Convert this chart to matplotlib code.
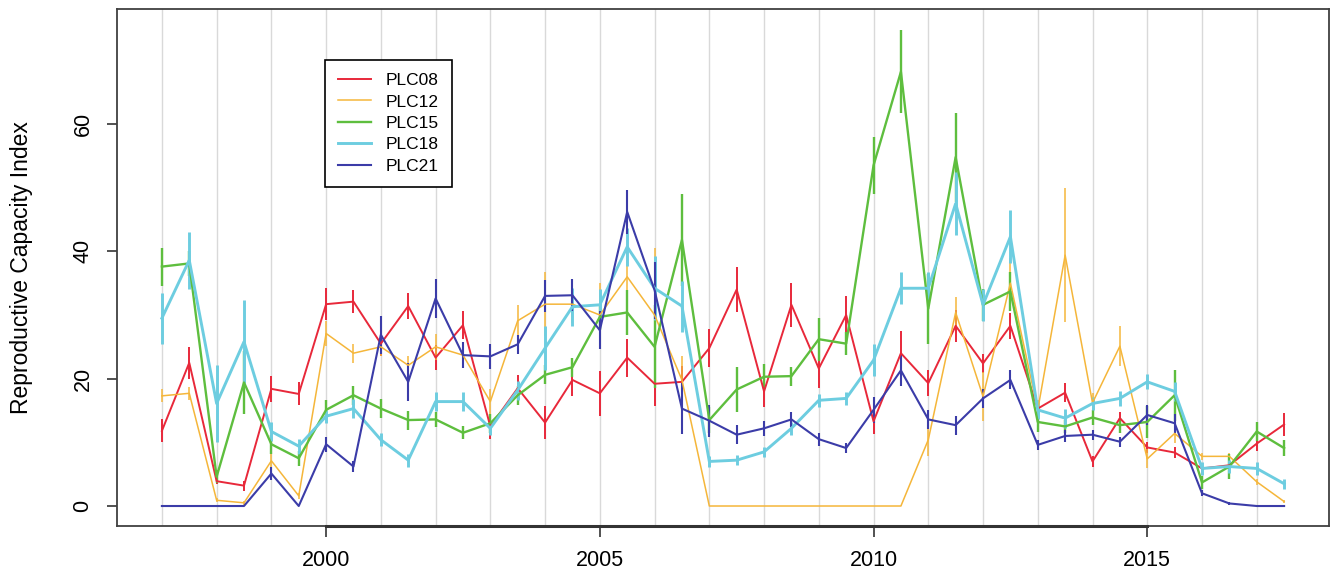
import numpy as np
import matplotlib
matplotlib.use("Agg")
import matplotlib.pyplot as plt

plt.rcParams['font.family'] = ['Liberation Sans', 'DejaVu Sans']

times = [1997.0, 1997.5, 1998.0, 1998.5, 1999.0, 1999.5, 2000.0, 2000.5, 2001.0, 2001.5,
         2002.0, 2002.5, 2003.0, 2003.5, 2004.0, 2004.5, 2005.0, 2005.5, 2006.0, 2006.5,
         2007.0, 2007.5, 2008.0, 2008.5, 2009.0, 2009.5, 2010.0, 2010.5, 2011.0, 2011.5,
         2012.0, 2012.5, 2013.0, 2013.5, 2014.0, 2014.5, 2015.0, 2015.5, 2016.0, 2016.5,
         2017.0, 2017.5]

plc08 = [11.8, 22.5, 3.9, 3.2, 18.4, 17.6, 31.7, 32.1, 25.5, 31.4,
         23.3, 28.4, 12.5, 18.5, 13.1, 19.8, 17.7, 23.3, 19.2, 19.5,
         24.8, 34.0, 18.0, 31.6, 21.6, 30.0, 13.3, 24.0, 19.3, 28.3,
         22.4, 28.3, 15.3, 17.8, 7.0, 13.8, 9.2, 8.4, 5.9, 6.4,
         9.8, 12.8]
plc12 = [17.3, 17.7, 0.9, 0.5, 7.1, 1.6, 27.1, 24.0, 25.0, 22.1,
         25.0, 23.7, 16.4, 29.1, 31.7, 31.7, 30.0, 36.0, 30.0, 19.8,
         0, 0, 0, 0, 0, 0, 0, 0, 10.4, 30.4,
         17.2, 35.0, 15.1, 39.4, 16.2, 25.1, 7.4, 11.4, 7.8, 7.8,
         3.8, 0.7]
plc15 = [37.6, 38.1, 4.6, 19.4, 9.7, 7.5, 15.1, 17.4, 15.3, 13.5,
         13.6, 11.5, 13.0, 17.4, 20.6, 21.8, 29.7, 30.4, 25.0, 41.8,
         13.5, 18.3, 20.3, 20.4, 26.2, 25.5, 53.5, 68.2, 31.0, 54.8,
         31.6, 33.7, 13.2, 12.5, 13.9, 12.7, 13.2, 17.4, 3.7, 6.2,
         11.7, 9.1]
plc18 = [29.5, 38.6, 16.1, 25.8, 11.7, 9.4, 14.1, 15.3, 10.4, 7.2,
         16.4, 16.4, 12.2, 18.2, 24.8, 31.3, 31.6, 40.7, 34.2, 31.4,
         7.0, 7.2, 8.5, 12.2, 16.6, 16.9, 22.9, 34.2, 34.2, 47.5,
         31.6, 42.3, 15.1, 13.8, 16.1, 16.9, 19.5, 18.0, 5.9, 6.2,
         5.9, 3.5]
plc21 = [0, 0, 0, 0, 5.1, 0, 9.7, 6.2, 26.9, 19.5,
         32.6, 23.7, 23.5, 25.4, 33.0, 33.1, 27.6, 46.2, 33.9, 15.3,
         13.4, 11.2, 12.2, 13.6, 10.5, 9.1, 15.1, 21.3, 13.6, 12.7,
         16.9, 19.8, 9.6, 11.0, 11.2, 10.1, 14.3, 13.0, 2.0, 0.4,
         0, 0]

err08 = [1.8, 2.5, 0.5, 0.8, 2.0, 1.8, 2.5, 1.8, 2.0, 2.0,
         2.0, 2.2, 2.0, 2.0, 2.6, 2.5, 3.5, 3.0, 3.5, 2.5,
         3.0, 3.5, 2.5, 3.5, 3.0, 3.0, 2.0, 3.5, 2.0, 2.5,
         1.5, 2.0, 1.0, 1.5, 0.8, 1.0, 0.8, 0.8, 0.8, 0.8,
         1.2, 1.8]
err12 = [1.0, 1.0, 0.3, 0.3, 1.0, 0.5, 2.0, 1.5, 1.5, 1.5,
         2.0, 1.5, 2.0, 2.5, 5.0, 3.0, 5.0, 4.5, 10.5, 3.8,
         0, 0, 0, 0, 0, 0, 0, 0, 2.6, 2.5,
         3.8, 4.0, 1.5, 10.5, 1.5, 3.1, 1.5, 1.5, 0.5, 0.5,
         0.5, 0.3]
err15 = [3.0, 2.0, 1.0, 5.0, 1.5, 1.2, 1.5, 1.5, 1.5, 1.5,
         1.2, 1.0, 1.5, 1.5, 1.5, 1.5, 2.0, 3.5, 6.5, 7.2,
         2.0, 3.5, 2.0, 1.5, 3.4, 1.8, 4.5, 6.5, 5.5, 7.0,
         2.5, 3.0, 1.5, 1.0, 1.2, 1.2, 2.5, 4.0, 1.0, 2.0,
         1.5, 1.2]
err18 = [4.0, 4.5, 6.0, 6.5, 1.5, 1.2, 1.0, 1.5, 1.0, 1.0,
         1.5, 1.5, 1.0, 1.5, 3.5, 3.0, 2.5, 3.0, 5.0, 4.0,
         0.8, 0.8, 0.8, 1.0, 1.0, 1.0, 2.5, 2.5, 2.5, 5.0,
         2.5, 4.2, 1.5, 1.5, 1.0, 1.2, 1.2, 1.5, 1.0, 1.0,
         1.0, 0.8]
err21 = [0, 0, 0, 0, 1.0, 0, 1.2, 0.8, 3.0, 3.0,
         3.0, 2.0, 2.0, 1.5, 2.5, 2.5, 3.0, 3.4, 4.5, 4.0,
         2.5, 1.5, 1.2, 1.2, 1.0, 0.8, 2.0, 2.5, 1.5, 1.5,
         1.5, 1.5, 0.8, 1.0, 0.8, 0.8, 1.5, 1.5, 0.5, 0.2,
         0, 0]

series_names = ["PLC08", "PLC12", "PLC15", "PLC18", "PLC21"]
series_vals = [plc08, plc12, plc15, plc18, plc21]
series_errs = [err08, err12, err15, err18, err21]
colors = ["#E8283A", "#F5B63A", "#5EBE3E", "#6DCDE0", "#3B3CA8"]
widths = [1.4, 1.1, 1.7, 2.1, 1.5]

grid_years = list(range(1997, 2018))
x_ticks = [2000, 2005, 2010, 2015]
y_ticks = [0, 20, 40, 60]

W, H = 1331, 580
fig = plt.figure(figsize=(W / 100, H / 100), dpi=100)
L, R, T, B = 117, 1329, 9, 526
ax = fig.add_axes([L / W, 1 - B / H, (R - L) / W, (B - T) / H])

for g in grid_years:
    ax.axvline(g, color="#d9d9d9", lw=1.0, zorder=0)

handles = []
for name, v, e, c, w in zip(series_names, series_vals, series_errs, colors, widths):
    ax.errorbar(times, v, yerr=e, color=c, lw=w, elinewidth=w, capsize=0, zorder=2)
    h, = ax.plot([], [], color=c, lw=w, label=name)
    handles.append(h)

ax.set_xlim(1996.18, 2018.32)
ax.set_ylim(-3.14, 78.06)

ax.set_xticks(x_ticks)
ax.set_xticklabels([str(t) for t in x_ticks], fontsize=15.5)
ax.set_yticks(y_ticks)
ax.set_yticklabels([str(t) for t in y_ticks], fontsize=15.5, rotation=90, va="center")
ax.tick_params(axis="x", length=8, width=1.2, pad=9, color="#333333")
ax.tick_params(axis="y", length=7, width=1.2, pad=10, color="#333333")
ax.set_ylabel("Reproductive Capacity Index", fontsize=16.5, labelpad=28)

for s in ax.spines.values():
    s.set_color("#404040")
    s.set_linewidth(1.3)

# R-style axis line from first to last tick
ax.plot([2000, 2015], [-3.14, -3.14], color="#333333", lw=2.2, clip_on=False, zorder=5)

leg = ax.legend(handles=handles, loc="upper left", bbox_to_anchor=(0.1715, 0.9014),
                borderaxespad=0, fancybox=False, edgecolor="black", framealpha=1,
                fontsize=12.5, handlelength=1.9, handletextpad=0.85, labelspacing=0.36,
                borderpad=0.75)
leg.get_frame().set_linewidth(1.2)

fig.savefig("out.png", dpi=100)
